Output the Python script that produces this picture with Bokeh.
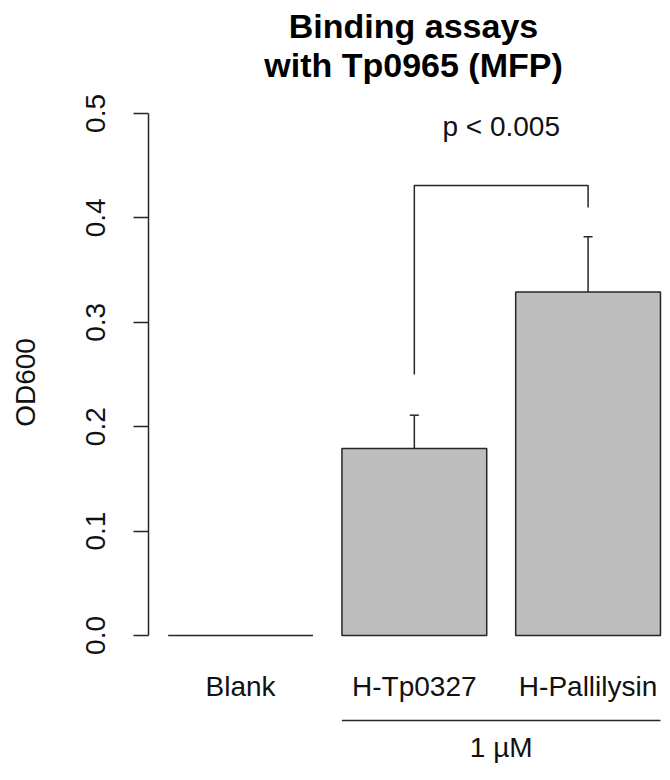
from bokeh.plotting import figure
from bokeh.models import Range1d, FixedTicker, ColumnDataSource
from bokeh.core.properties import value
from bokeh.embed import file_html
from bokeh.resources import INLINE

# ---- data ----
categories = ["Blank", "H-Tp0327", "H-Pallilysin"]
od600 = [0.0, 0.179, 0.329]
err_upper = [0.0, 0.211, 0.382]
group_label = "1 \u00b5M"
group_members = ["H-Tp0327", "H-Pallilysin"]
bracket_y = [0.250, 0.431, 0.431, 0.410]
p_text = "p < 0.005"
p_text_y = 0.4875
y_ticks = [0.0, 0.1, 0.2, 0.3, 0.4, 0.5]
title_lines = ["Binding assays", "with Tp0965 (MFP)"]
y_label = "OD600"

# ---- geometry (R barplot style: width 1, space 0.2) ----
bar_w = 1.0
space = 0.2
centers = [space + bar_w / 2 + i * (bar_w + space) for i in range(len(categories))]
lefts = [c - bar_w / 2 for c in centers]
rights = [c + bar_w / 2 for c in centers]

FONT = "Liberation Sans"
INK = "#262626"
TXT = "#111111"

x0, x1 = 0.064, 3.614
y0, y1 = -0.1236, 0.6082

p = figure(width=662, height=764, output_backend="svg", toolbar_location=None,
           title=None, x_range=Range1d(x0, x1), y_range=Range1d(y0, y1),
           x_axis_type=None, min_border_left=148, min_border_right=0,
           min_border_top=0, min_border_bottom=0)
p.outline_line_color = None
p.grid.visible = False
p.background_fill_color = "white"
p.border_fill_color = "white"

# y axis (line only over 0..0.5, as in R)
ya = p.yaxis[0]
ya.bounds = (0, 0.5)
ya.ticker = FixedTicker(ticks=y_ticks)
ya.major_label_overrides = {t: f"{t:.1f}" for t in y_ticks}
ya.major_label_orientation = "vertical"
ya.major_label_text_font = FONT
ya.major_label_text_font_size = "28px"
ya.major_label_text_color = TXT
ya.major_label_standoff = 28
ya.major_tick_out = 15
ya.major_tick_in = 0
ya.minor_tick_out = 0
ya.minor_tick_in = 0
ya.axis_line_color = INK
ya.axis_line_width = 1.5
ya.major_tick_line_color = INK
ya.major_tick_line_width = 1.5
ya.axis_label = y_label
ya.axis_label_text_font = FONT
ya.axis_label_text_font_size = "28px"
ya.axis_label_text_font_style = "normal"
ya.axis_label_text_color = TXT
ya.axis_label_standoff = 43

# title: two bold centred lines at the top of the canvas
x_mid = (x0 + x1) / 2
p.text(x=[x_mid, x_mid], y=[y1, y1], text=title_lines, x_offset=8,
       y_offset=[25, 64], text_font=value(FONT), text_font_size="34px",
       text_font_style="bold", text_color="black",
       text_align="center", text_baseline="alphabetic")

# bars
src = ColumnDataSource(dict(x=centers, top=od600, cat=categories))
p.vbar(x="x", top="top", bottom=0, width=bar_w, source=src,
       fill_color="#bebebe", line_color=INK, line_width=1.5)

# error bars (upper only), skip zero-height
ex = [c for c, v, u in zip(centers, od600, err_upper) if u > v]
e0 = [v for v, u in zip(od600, err_upper) if u > v]
e1 = [u for v, u in zip(od600, err_upper) if u > v]
p.segment(x0=ex, y0=e0, x1=ex, y1=e1, line_color=INK, line_width=1.5)
p.scatter(x=ex, y=e1, marker="dash", size=9, line_color=INK, line_width=1.5)

# significance bracket between the two treated bars
i1 = categories.index(group_members[0])
i2 = categories.index(group_members[1])
p.line(x=[centers[i1], centers[i1], centers[i2], centers[i2]], y=bracket_y,
       line_color=INK, line_width=1.5)
p.text(x=[(centers[i1] + centers[i2]) / 2], y=[p_text_y], text=[p_text],
       text_font=value(FONT), text_font_size="28px", text_color=TXT,
       text_align="center", text_baseline="alphabetic")

# category labels under bars
p.text(x="x", y=0, text="cat", source=src, y_offset=51,
       text_font=value(FONT), text_font_size="28px", text_color=TXT,
       text_align="center", text_baseline="alphabetic")

# group line and label
p.segment(x0=[lefts[i1]], y0=[-0.0814], x1=[rights[i2]], y1=[-0.0814],
          line_color=INK, line_width=1.5)
p.text(x=[(lefts[i1] + rights[i2]) / 2], y=[0], text=[group_label], y_offset=112,
       text_font=value(FONT), text_font_size="28px", text_color=TXT,
       text_align="center", text_baseline="alphabetic")

open("out.html", "w").write(file_html(p, INLINE))
